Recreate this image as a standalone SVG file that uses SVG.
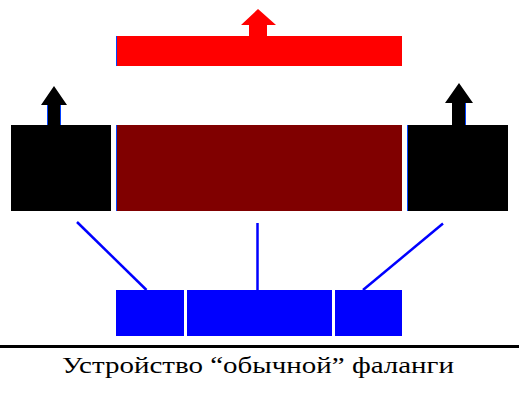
<svg xmlns="http://www.w3.org/2000/svg" width="519" height="403" viewBox="0 0 519 403">
<style>
.blk{fill:#000}
.dred{fill:#800000}
.red{fill:#ff0000}
.blu{fill:#0000ff}
.edge{stroke:#0040ff;stroke-width:1}
.conn{stroke:#0000ff;stroke-width:2.5;fill:none}
.cap{font-family:"Liberation Serif","DejaVu Serif",serif;font-size:23px;fill:#000}
</style>
<rect width="519" height="403" fill="#fff"/>
<g id="top-bar">
<rect class="red" x="116" y="36" width="286" height="30"/>
<polygon class="red" points="258,9 276,25 267,25 267,36 249,36 249,25 241,25"/>
<line class="edge" x1="116.5" y1="36" x2="116.5" y2="66"/>
</g>
<g id="left-block">
<rect class="blk" x="11" y="125" width="100" height="86"/>
<polygon class="blk" points="54,86 67,105 61,105 61,125 47,125 47,105 41,105"/>
<line class="edge" x1="47.5" y1="105" x2="47.5" y2="125"/>
<line class="edge" x1="60.5" y1="105" x2="60.5" y2="125"/>
</g>
<g id="center-block">
<rect class="dred" x="116" y="125" width="286" height="86"/>
<line class="edge" x1="116.5" y1="125" x2="116.5" y2="211"/>
</g>
<g id="right-block">
<rect class="blk" x="407" y="125" width="101" height="86"/>
<polygon class="blk" points="459,83 473,103 466,103 466,125 452,125 452,103 445,103"/>
<line class="edge" x1="407.5" y1="125" x2="407.5" y2="211"/>
<line class="edge" x1="465.5" y1="103" x2="465.5" y2="125"/>
</g>
<g id="bottom-left">
<rect class="blu" x="116" y="290" width="68" height="46"/>
</g>
<g id="bottom-center">
<rect class="blu" x="187" y="290" width="145" height="46"/>
</g>
<g id="bottom-right">
<rect class="blu" x="335" y="290" width="67" height="46"/>
</g>
<g id="connectors">
<line class="conn" x1="77" y1="222" x2="146.5" y2="290"/>
<line class="conn" x1="257.5" y1="223" x2="257.5" y2="290"/>
<line class="conn" x1="443" y1="223.5" x2="363" y2="290"/>
</g>
<g id="ground">
<line x1="0" y1="346.5" x2="519" y2="346.5" stroke="#000" stroke-width="3"/>
</g>
<text class="cap" x="62" y="373" textLength="392" lengthAdjust="spacingAndGlyphs">Устройство “обычной” фаланги</text>
</svg>
